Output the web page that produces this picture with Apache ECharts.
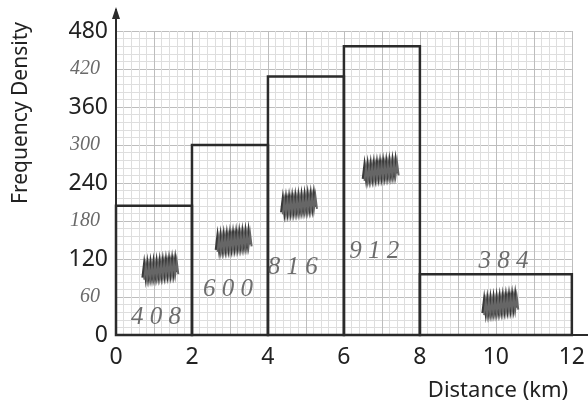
<!DOCTYPE html>
<html><head><meta charset="utf-8">
<script src="https://cdn.jsdelivr.net/npm/echarts@6/dist/echarts.min.js"></script>
<style>html,body{margin:0;padding:0;background:#fff}#c{width:588px;height:405px}</style>
</head><body><div id="c"></div>
<script>
// Data
const classStart = [0, 2, 4, 6, 8];
const classEnd = [2, 4, 6, 8, 12];
const density = [204, 300, 408, 456, 96];
const frequencyNotes = ['408', '600', '816', '912', '384'];
const yTickPrinted = [0, 120, 240, 360, 480];
const yTickHand = [60, 180, 300, 420];
const xTicks = [0, 2, 4, 6, 8, 10, 12];

// Layout of hand-written notes (data coordinates)
const notePos = [[1.05, 27], [2.95, 72], [4.65, 106], [6.8, 132], [10.2, 116]];
const scribblePos = [[1.15, 100], [3.08, 144], [4.8, 203], [6.95, 256], [10.1, 44]];

const chart = echarts.init(document.getElementById('c'));
const ink = '#2b2b2b';
const printFont = '"Noto Sans", sans-serif';
const handFont = '"Liberation Serif", serif';

const option = {
  animation: false,
  backgroundColor: '#ffffff',
  grid: { left: 116, right: 15, top: 31, bottom: 70 },
  xAxis: {
    type: 'value', min: 0, max: 12, interval: 1,
    axisLine: { show: false },
    axisTick: { show: false },
    axisLabel: {
      margin: 11, fontSize: 23, color: '#222', fontFamily: printFont,
      formatter: v => xTicks.includes(v) ? String(v) : ''
    },
    splitLine: { show: true, lineStyle: { color: '#bdbdbd', width: 1 } },
    minorTick: { show: false, splitNumber: 5 },
    minorSplitLine: { show: true, lineStyle: { color: '#dedede', width: 1 } }
  },
  yAxis: {
    type: 'value', min: 0, max: 480, interval: 60,
    axisLine: { show: false },
    axisTick: { show: false },
    axisLabel: {
      margin: 8,
      formatter: v => yTickPrinted.includes(v) ? '{p|' + v + '}' : (yTickHand.includes(v) ? '{h|' + v + '}' : ''),
      rich: {
        p: { fontSize: 23, color: '#222', fontFamily: printFont },
        h: { fontSize: 20, color: '#6a6a6a', fontFamily: handFont, fontStyle: 'italic', padding: [0, 8, 0, 0] }
      }
    },
    splitLine: { show: true, lineStyle: { color: '#bdbdbd', width: 1 } },
    minorTick: { show: false, splitNumber: 5 },
    minorSplitLine: { show: true, lineStyle: { color: '#dedede', width: 1 } }
  },
  series: [
    {
      type: 'custom',
      data: classStart.map((s, i) => [s, classEnd[i], density[i]]),
      encode: { x: [0, 1], y: 2 },
      renderItem: (params, api) => {
        const p0 = api.coord([api.value(0), api.value(2)]);
        const p1 = api.coord([api.value(1), 0]);
        return {
          type: 'rect',
          shape: { x: p0[0], y: p0[1], width: p1[0] - p0[0], height: p1[1] - p0[1] },
          style: { fill: 'rgba(0,0,0,0)', stroke: ink, lineWidth: 2.5 }
        };
      },
      z: 3
    },
    {
      type: 'scatter',
      symbolSize: 0,
      data: frequencyNotes.map((t, i) => ({ value: notePos[i], name: t })),
      label: {
        show: true, position: 'inside', formatter: p => p.name.split('').join(' '),
        fontSize: 25, fontStyle: 'italic', fontFamily: handFont, color: '#4a4a4a'
      },
      z: 4
    },
    {
      type: 'custom',
      data: scribblePos,
      encode: { x: 0, y: 1 },
      renderItem: (params, api) => {
        const c = api.coord([api.value(0), api.value(1)]);
        const pts = [];
        for (let k = 0; k <= 22; k++) {
          const dx = -17 + k * 1.55;
          const dy = (k % 2 ? -7 : 6) - k * 0.25;
          pts.push([c[0] + dx, c[1] + dy]);
        }
        return {
          type: 'group',
          children: [
            { type: 'polyline', shape: { points: pts }, style: { stroke: '#3a3a3a', lineWidth: 2.6, fill: null } },
            { type: 'polyline', shape: { points: pts.map(p => [p[0] + 1.5, p[1] + 2]) }, style: { stroke: '#666', lineWidth: 2, fill: null } }
          ]
        };
      },
      z: 4
    }
  ]
};
chart.setOption(option);

// axes lines with arrow (drawn from axis scale)
const pOrigin = chart.convertToPixel({ gridIndex: 0 }, [0, 0]);
const pTop = chart.convertToPixel({ gridIndex: 0 }, [0, 480]);
const pRight = chart.convertToPixel({ gridIndex: 0 }, [12, 0]);
chart.setOption({
  graphic: [
    { type: 'line', shape: { x1: pOrigin[0], y1: pOrigin[1], x2: pOrigin[0], y2: pTop[1] - 22 }, style: { stroke: ink, lineWidth: 2 }, z: 10 },
    { type: 'polygon', shape: { points: [[pOrigin[0], pTop[1] - 24], [pOrigin[0] - 4, pTop[1] - 12], [pOrigin[0] + 4, pTop[1] - 12]] }, style: { fill: ink }, z: 10 },
    { type: 'line', shape: { x1: pOrigin[0], y1: pOrigin[1], x2: pRight[0] + 20, y2: pOrigin[1] }, style: { stroke: ink, lineWidth: 2 }, z: 10 },
    { type: 'text', x: 21, y: 113, rotation: Math.PI / 2, style: { text: 'Frequency Density', font: '21px "Noto Sans", sans-serif', fill: '#222', align: 'center', verticalAlign: 'middle' }, z: 10 },
    { type: 'text', x: 498, y: 391, style: { text: 'Distance (km)', font: '22px "Noto Sans", sans-serif', fill: '#222', align: 'center', verticalAlign: 'middle' }, z: 10 }
  ]
});
</script>
</body></html>
